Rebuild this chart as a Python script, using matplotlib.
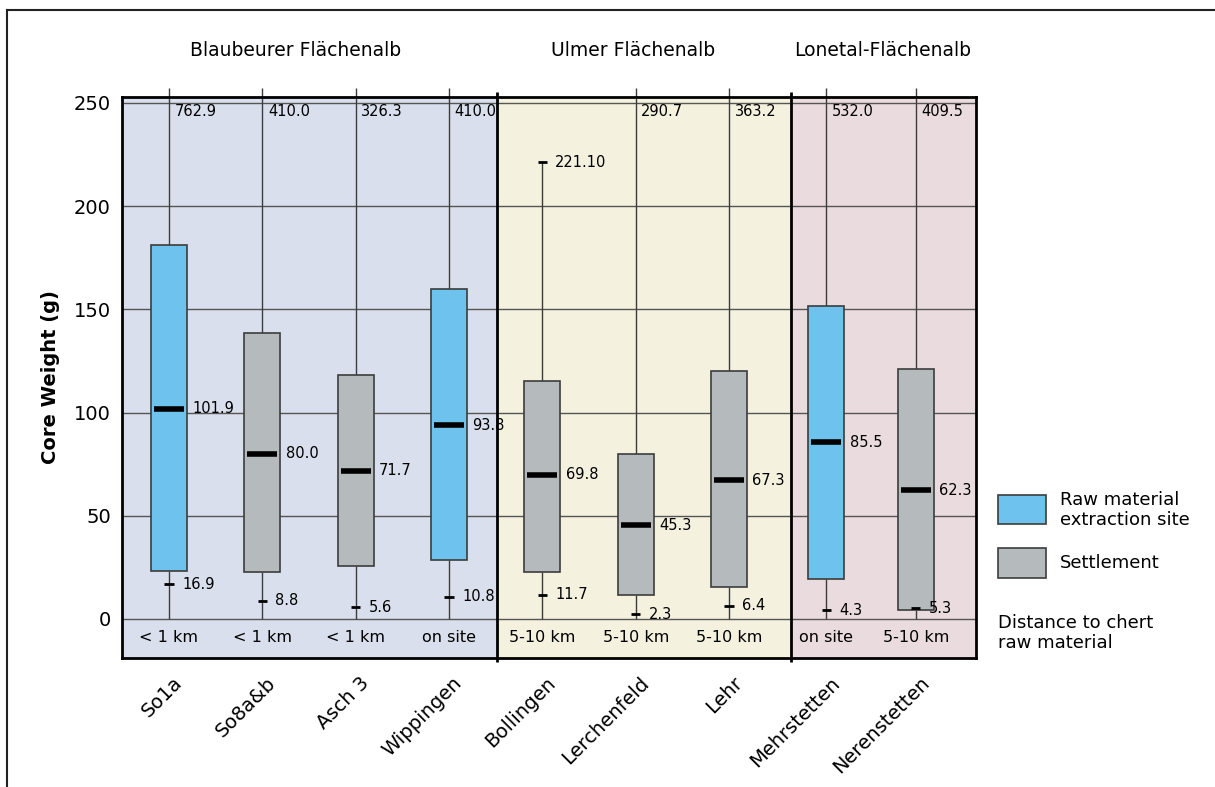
import matplotlib
matplotlib.use("Agg")
import matplotlib.pyplot as plt
import matplotlib.transforms as mtransforms
from matplotlib.lines import Line2D
from matplotlib.patches import Rectangle

# data
sites = ["So1a", "So8a&b", "Asch 3", "Wippingen", "Bollingen",
         "Lerchenfeld", "Lehr", "Mehrstetten", "Nerenstetten"]
distance = ["< 1 km", "< 1 km", "< 1 km", "on site", "5-10 km",
            "5-10 km", "5-10 km", "on site", "5-10 km"]
site_type = ["extraction", "settlement", "settlement", "extraction", "settlement",
             "settlement", "settlement", "extraction", "settlement"]
q1 = [23.4, 22.6, 25.5, 28.6, 22.6, 11.6, 15.4, 19.5, 4.5]
q3 = [181.2, 138.7, 118.2, 159.9, 115.2, 79.8, 120.3, 151.6, 121.1]
medians = [101.9, 80.0, 71.7, 93.8, 69.8, 45.3, 67.3, 85.5, 62.3]
mins = [16.9, 8.8, 5.6, 10.8, 11.7, 2.3, 6.4, 4.3, 5.3]
maxs = [762.9, 410.0, 326.3, 410.0, 221.1, 290.7, 363.2, 532.0, 409.5]
max_labels = ["762.9", "410.0", "326.3", "410.0", "221.10",
              "290.7", "363.2", "532.0", "409.5"]

regions = ["Blaubeurer Flächenalb", "Ulmer Flächenalb", "Lonetal-Flächenalb"]

# layout
pos = [0, 1, 2, 3, 4, 5, 6, 7.04, 8]
region_bounds = [(-0.503, 3.51), (3.51, 6.66), (6.66, 8.65)]
region_title_x = [1.36, 4.97, 7.64]
region_colors = ["#d9dfec", "#f4f1df", "#eadbde"]
type_colors = {"extraction": "#6dc3ee", "settlement": "#b5babd"}
edge = "#3c3c3c"
box_w = 0.385
top_whisker = 257.3

plt.rcParams['font.family'] = ['DejaVu Sans']

fig = plt.figure(figsize=(12.15, 7.87), dpi=100)
ax = fig.add_axes([0.1004, 0.1639, 0.7033, 0.7128])
ax.set_xlim(-0.503, 8.65)
ax.set_ylim(-18.9, 252.8)

for (x0, x1), c in zip(region_bounds, region_colors):
    ax.axvspan(x0, x1, color=c, zorder=0, lw=0)

for g in [0, 50, 100, 150, 200, 250]:
    ax.axhline(g, color="#555555", lw=1, zorder=1)

for i in range(len(sites)):
    x = pos[i]
    # lower whisker down to the zero line, with a tick at the minimum
    ax.vlines(x, 0, q1[i], color=edge, lw=1, zorder=2)
    ax.hlines(mins[i], x - 0.05, x + 0.05, color="black", lw=2, zorder=4)
    ax.text(x + 0.14, mins[i], f"{mins[i]:.1f}", fontsize=10.5, va="center", ha="left", zorder=5)
    # upper whisker
    if maxs[i] > 250:
        ax.vlines(x, q3[i], top_whisker, color=edge, lw=1, zorder=2, clip_on=False)
        ax.text(x + 0.06, 246, max_labels[i], fontsize=10.5, va="center", ha="left", zorder=5)
    else:
        ax.vlines(x, q3[i], maxs[i], color=edge, lw=1, zorder=2)
        ax.hlines(maxs[i], x - 0.05, x + 0.05, color="black", lw=2, zorder=4)
        ax.text(x + 0.13, maxs[i], max_labels[i], fontsize=10.5, va="center", ha="left", zorder=5)
    # box
    ax.bar(x, q3[i] - q1[i], bottom=q1[i], width=box_w, color=type_colors[site_type[i]],
           edgecolor=edge, lw=1.2, zorder=3)
    ax.hlines(medians[i], x - 0.16, x + 0.16, color="black", lw=4, zorder=4)
    ax.text(x + 0.25, medians[i], f"{medians[i]:.1f}", fontsize=10.5, va="center", ha="left", zorder=5)
    # distance to raw material
    ax.text(x, -9.2, distance[i], fontsize=11.5, ha="center", va="center", zorder=5)

for xd in [region_bounds[0][1], region_bounds[1][1]]:
    ax.vlines(xd, -21, 255.3, color="black", lw=2, zorder=6, clip_on=False)

for name, xt in zip(regions, region_title_x):
    ax.text(xt, 275.5, name, fontsize=13.5, ha="center", va="center", clip_on=False)

for s in ax.spines.values():
    s.set_linewidth(2)
    s.set_color("black")
    s.set_zorder(7)

ax.set_yticks([0, 50, 100, 150, 200, 250])
ax.tick_params(axis="y", length=0, pad=8, labelsize=14)
ax.set_xticks(pos)
ax.set_xticklabels(sites, rotation=45, ha="right", fontsize=14)
ax.tick_params(axis="x", length=0, pad=11)
shift = mtransforms.ScaledTranslation(17 / 100, 0, fig.dpi_scale_trans)
for lab in ax.get_xticklabels():
    lab.set_transform(lab.get_transform() + shift)

ax.set_ylabel("Core Weight (g)", fontsize=14, fontweight="bold")
ax.yaxis.set_label_coords(-0.0725, 0.5)

# legend
fig.add_artist(Rectangle((0.8214, 0.3342), 0.0395, 0.0368, transform=fig.transFigure,
                         facecolor=type_colors["extraction"], edgecolor=edge, lw=1.2))
fig.add_artist(Rectangle((0.8214, 0.2656), 0.0395, 0.0381, transform=fig.transFigure,
                         facecolor=type_colors["settlement"], edgecolor=edge, lw=1.2))
fig.text(0.8724, 0.352, "Raw material\nextraction site", fontsize=13, va="center", ha="left",
         linespacing=1.1)
fig.text(0.8724, 0.2846, "Settlement", fontsize=13, va="center", ha="left")
fig.text(0.8214, 0.1957, "Distance to chert\nraw material", fontsize=13, va="center", ha="left",
         linespacing=1.1)

# outer frame lines
fig.add_artist(Line2D([7 / 1215, 1], [1 - 10 / 787, 1 - 10 / 787], transform=fig.transFigure,
                      color="#222222", lw=1.5))
fig.add_artist(Line2D([7 / 1215, 7 / 1215], [0, 1 - 10 / 787], transform=fig.transFigure,
                      color="#222222", lw=1.5))

fig.savefig("out.png", dpi=100)
